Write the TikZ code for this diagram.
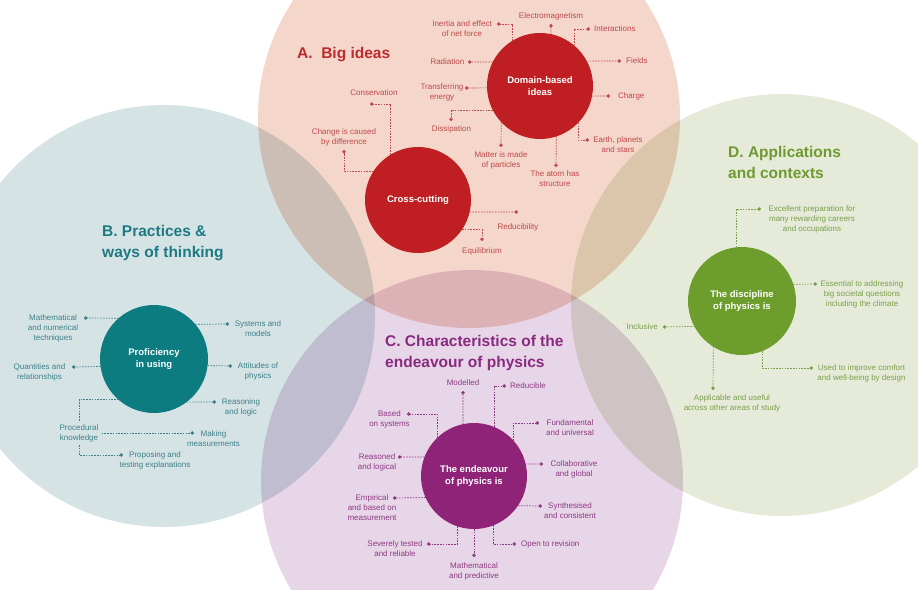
\documentclass[tikz,border=0pt]{standalone}
\usepackage{fontspec}
\setmainfont{Liberation Sans}
\usetikzlibrary{arrows.meta,positioning}

\definecolor{ideasfill}{HTML}{F4D6CA}
\definecolor{practfill}{HTML}{D6E3E5}
\definecolor{endvfill}{HTML}{E7D5E8}
\definecolor{applfill}{HTML}{E5EBD8}
\definecolor{ideasdark}{HTML}{BF1E22}
\definecolor{practdark}{HTML}{0C7C81}
\definecolor{endvdark}{HTML}{8E2378}
\definecolor{appldark}{HTML}{6C9D2D}
\definecolor{ideastxt}{HTML}{BE4A4C}
\definecolor{practtxt}{HTML}{3B8089}
\definecolor{endvtxt}{HTML}{8D3A82}
\definecolor{appltxt}{HTML}{7AA04C}
\definecolor{ideashead}{HTML}{BF2A2F}
\definecolor{practhead}{HTML}{1D7A84}
\definecolor{endvhead}{HTML}{8A2A7F}
\definecolor{applhead}{HTML}{6E9A2F}

\begin{document}
\begin{tikzpicture}[x=1pt, y=-1pt,
    hub/.style={circle, minimum size=106pt, inner sep=0pt, outer sep=0pt, text=white,
      font=\fontsize{9.5}{12.5}\selectfont\bfseries, align=center},
    lbl/.style={font=\fontsize{8}{10}\selectfont, align=center, inner sep=0pt},
    lblA/.style={lbl, text=ideastxt}, lblB/.style={lbl, text=practtxt},
    lblC/.style={lbl, text=endvtxt}, lblD/.style={lbl, text=appltxt},
    plain/.style={line width=0.7pt, dash pattern=on 1.6pt off 1.2pt},
    link/.style={plain, -{Circle[length=3.4pt]}},
    linkA/.style={link, ideastxt}, linkB/.style={link, practtxt},
    linkC/.style={link, endvtxt}, linkD/.style={link, appltxt},
    heading/.style={font=\fontsize{15.5}{21}\selectfont\bfseries, align=left, anchor=west, inner sep=0pt}]

  \def\ideascircle{(469,117) circle[radius=211pt]}
  \def\practcircle{(164,316) circle[radius=211pt]}
  \def\endvcircle{(472,481) circle[radius=211pt]}
  \def\applcircle{(782,305) circle[radius=211pt]}

  \useasboundingbox (0,0) rectangle (918,589);
  \clip (0,0) rectangle (918,589);

  \begin{scope}[blend group=multiply]
    \fill[ideasfill] \ideascircle;
    \fill[practfill] \practcircle;
    \fill[endvfill] \endvcircle;
    \fill[applfill] \applcircle;
  \end{scope}

  \node[heading, text=ideashead] (headA) at (297,55) {A.\ \ Big ideas};
  \node[heading, text=practhead] (headB) at (102,243) {B. Practices \&\\ways of thinking};
  \node[heading, text=endvhead] (headC) at (385,353) {C. Characteristics of the\\endeavour of physics};
  \node[heading, text=applhead] (headD) at (728,162) {D. Applications\\and contexts};

  \node[hub, fill=ideasdark] (dom) at (540,86) {Domain-based\\ideas};
  \node[hub, fill=ideasdark] (cross) at (418,200) {Cross-cutting};
  \node[hub, fill=practdark, minimum size=108pt] (prof) at (154,359) {Proficiency\\in using};
  \node[hub, fill=endvdark] (endv) at (474,476) {The endeavour\\of physics is};
  \node[hub, fill=appldark, minimum size=108pt] (disc) at (742,301) {The discipline\\of physics is};

  % A. big ideas
  \coordinate (dInertia) at (497,24);
  \coordinate (dElec) at (551,24);
  \coordinate (dInter) at (590,29);
  \coordinate (dFields) at (621,61);
  \coordinate (dCharge) at (610,96);
  \coordinate (dEarth) at (589,140);
  \coordinate (dAtom) at (556,167);
  \coordinate (dMatter) at (501,147);
  \coordinate (dDissip) at (451,121);
  \coordinate (dTrans) at (465,88);
  \coordinate (dRad) at (468,62);
  \coordinate (dCons) at (370,104);
  \coordinate (dChange) at (344,150);
  \coordinate (dReduc) at (518,212);
  \coordinate (dEquil) at (482,241);

  \draw[linkA] (dom.122) |- (dInertia);
  \draw[linkA] (dom.78) -- (dElec);
  \draw[linkA] (dom.50) |- (dInter);
  \draw[linkA] (dom.28) -- (dFields);
  \draw[linkA] (dom.-11) -- (dCharge);
  \draw[linkA] (dom.-44) |- (dEarth);
  \draw[linkA] (dom.-72) -- (dAtom);
  \draw[linkA] (dom.-137) -- (dMatter);
  \draw[linkA] (dom.207) -| (dDissip);
  \draw[linkA] (dom.182) -- (dTrans);
  \draw[linkA] (dom.153) -- (dRad);
  \draw[linkA] (cross.121) |- (dCons);
  \draw[linkA] (cross.147) -| (dChange);
  \draw[linkA] (cross.-13) -- (dReduc);
  \draw[linkA] (cross.-34.5) -| (dEquil);

  \node[lblA] (inertia) at (462,29) {Inertia and effect\\of net force};
  \node[lblA] (elec) at (551,16) {Electromagnetism};
  \node[lblA, right=4pt of dInter] (inter) {Interactions};
  \node[lblA, right=5pt of dFields] (fields) {Fields};
  \node[lblA, right=8pt of dCharge] (charge) {Charge};
  \node[lblA] (earth) at (618,145) {Earth, planets\\and stars};
  \node[lblA] (atom) at (555,179) {The atom has\\structure};
  \node[lblA] (matter) at (501,160) {Matter is made\\of particles};
  \node[lblA] (dissip) at (451.5,129) {Dissipation};
  \node[lblA] (trans) at (442,92) {Transferring\\energy};
  \node[lblA, left=3.5pt of dRad] (rad) {Radiation};
  \node[lblA] (cons) at (374,93) {Conservation};
  \node[lblA] (change) at (344,137) {Change is caused\\by difference};
  \node[lblA] (reduc) at (518,227) {Reducibility};
  \node[lblA] (equil) at (482,251) {Equilibrium};

  % B. practices
  \coordinate (dMath) at (84,318);
  \coordinate (dSys) at (229,324);
  \coordinate (dQuant) at (72,367);
  \coordinate (dAttit) at (232,366);
  \coordinate (dReason) at (216,402);
  \coordinate (dMaking) at (194,433);
  \coordinate (dPropos) at (123,455);

  \node[lblB, inner sep=3pt] (proc) at (79,433) {Procedural\\knowledge};

  \draw[linkB] (prof.131) -- (dMath);
  \draw[linkB] (prof.40) -- (dSys);
  \draw[linkB] (prof.188.5) -- (dQuant);
  \draw[linkB] (prof.-7.5) -- (dAttit);
  \draw[linkB] (prof.-53) -- (dReason);
  \draw[plain, practtxt] (prof.229.4) -| (proc.north);
  \draw[linkB] (proc.east) -- (dMaking);
  \draw[linkB] (proc.south) |- (dPropos);

  \node[lblB] (math) at (53,328) {Mathematical\\and numerical\\techniques};
  \node[lblB] (sys) at (258,329) {Systems and\\models};
  \node[lblB] (quant) at (39.5,372) {Quantities and\\relationships};
  \node[lblB] (attit) at (258,371) {Attitudes of\\physics};
  \node[lblB] (reason) at (241,407) {Reasoning\\and logic};
  \node[lblB] (making) at (213.5,438.5) {Making\\measurements};
  \node[lblB] (propos) at (155,460.5) {Proposing and\\testing explanations};

  % C. endeavour
  \coordinate (dModel) at (463,391);
  \coordinate (dRedu) at (506,386);
  \coordinate (dBased) at (407,414);
  \coordinate (dFund) at (539,423);
  \coordinate (dReasoned) at (398,457);
  \coordinate (dCollab) at (543,464);
  \coordinate (dEmpir) at (393,498);
  \coordinate (dSynth) at (542,506);
  \coordinate (dSevere) at (427,544);
  \coordinate (dMathPred) at (474,557);
  \coordinate (dOpen) at (516,544);

  \draw[linkC] (endv.102) -- (dModel);
  \draw[linkC] (endv.68) |- (dRedu);
  \draw[linkC] (endv.134) |- (dBased);
  \draw[linkC] (endv.42.6) |- (dFund);
  \draw[linkC] (endv.159) -- (dReasoned);
  \draw[linkC] (endv.13) -- (dCollab);
  \draw[linkC] (endv.204.5) -- (dEmpir);
  \draw[linkC] (endv.-34.5) -- (dSynth);
  \draw[linkC] (endv.-108.7) |- (dSevere);
  \draw[linkC] (endv.-90) -- (dMathPred);
  \draw[linkC] (endv.-69) |- (dOpen);

  \node[lblC] (model) at (463,383) {Modelled};
  \node[lblC, right=4pt of dRedu] (redu) {Reducible};
  \node[lblC] (based) at (389.5,419) {Based\\on systems};
  \node[lblC] (fund) at (570,428) {Fundamental\\and universal};
  \node[lblC] (reasoned) at (377,462) {Reasoned\\and logical};
  \node[lblC] (collab) at (574,469) {Collaborative\\and global};
  \node[lblC] (empir) at (372,508) {Empirical\\and based on\\measurement};
  \node[lblC] (synth) at (570,511) {Synthesised\\and consistent};
  \node[lblC] (severe) at (395,549) {Severely tested\\and reliable};
  \node[lblC] (mathpred) at (474,571.5) {Mathematical\\and predictive};
  \node[lblC, right=5pt of dOpen] (open) {Open to revision};

  % D. applications
  \coordinate (dExcel) at (761,209);
  \coordinate (dEssen) at (817,284);
  \coordinate (dIncl) at (663,327);
  \coordinate (dUsed) at (813,368);
  \coordinate (dAppl) at (713,390);

  \draw[linkD] (disc.96.4) |- (dExcel);
  \draw[linkD] (disc.18.3) -- (dEssen);
  \draw[linkD] (disc.208.8) -- (dIncl);
  \draw[linkD] (disc.-68.3) |- (dUsed);
  \draw[linkD] (disc.-122.5) -- (dAppl);

  \node[lblD] (excel) at (812,219) {Excellent preparation for\\many rewarding careers\\and occupations};
  \node[lblD] (essen) at (862,294) {Essential to addressing\\big societal questions\\including the climate};
  \node[lblD, left=5pt of dIncl] (incl) {Inclusive};
  \node[lblD] (used) at (861.5,373) {Used to improve comfort\\and well-being by design};
  \node[lblD] (appl) at (732,403) {Applicable and useful\\across other areas of study};
\end{tikzpicture}
\end{document}
